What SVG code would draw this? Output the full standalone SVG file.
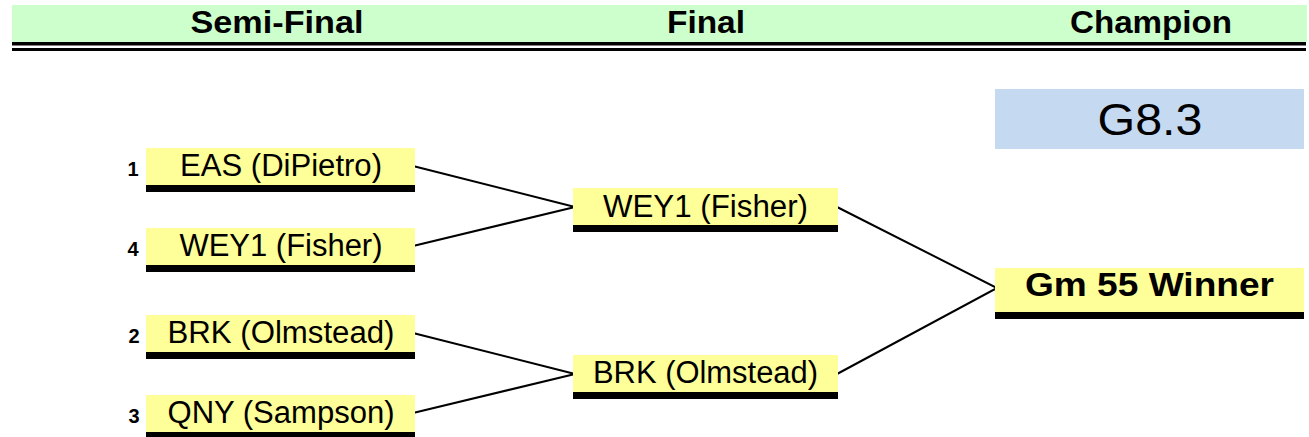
<svg xmlns="http://www.w3.org/2000/svg" width="1309" height="437" viewBox="0 0 1309 437">
<style>
.hdr{font-family:"Liberation Sans",Arial,sans-serif;font-weight:bold;font-size:31px;fill:#000;text-anchor:middle}
.box{fill:#FFFF99}
.bar{fill:#000}
.lbl{font-family:"Liberation Sans",Arial,sans-serif;font-size:31px;fill:#000;text-anchor:middle}
.seed{font-family:"Liberation Sans",Arial,sans-serif;font-weight:bold;font-size:20px;fill:#000;text-anchor:middle}
.conn{stroke:#000;stroke-width:2;fill:none}
</style>
<rect width="1309" height="437" fill="#fff"/>
<g id="header">
<rect x="12" y="5" width="1295" height="37" fill="#CCFFCC"/>
<rect x="12" y="42" width="1294" height="3.5" fill="#000"/>
<rect x="12" y="48" width="1294" height="3" fill="#000"/>
<text class="hdr" x="277" y="33" textLength="173" lengthAdjust="spacingAndGlyphs">Semi-Final</text>
<text class="hdr" x="706" y="33" textLength="78" lengthAdjust="spacingAndGlyphs">Final</text>
<text class="hdr" x="1151" y="33" textLength="162" lengthAdjust="spacingAndGlyphs">Champion</text>
</g>
<g id="connectors">
<polyline class="conn" points="413,166 575,207 413,246"/>
<polyline class="conn" points="413,333 575,374 413,413"/>
<polyline class="conn" points="837,207 997,288 837,374"/>
</g>
<g id="game-label">
<rect x="995" y="89" width="309" height="60" fill="#C5D9F1"/>
<text class="lbl" x="1150" y="135" style="font-size:45px" textLength="105" lengthAdjust="spacingAndGlyphs">G8.3</text>
</g>
<g id="semi1">
<text class="seed" x="133" y="176">1</text>
<rect class="box" x="146" y="148" width="269" height="37"/>
<rect class="bar" x="146" y="185" width="269" height="7"/>
<text class="lbl" x="281" y="176" textLength="202" lengthAdjust="spacingAndGlyphs">EAS (DiPietro)</text>
</g>
<g id="semi4">
<text class="seed" x="133" y="256">4</text>
<rect class="box" x="146" y="228" width="269" height="37"/>
<rect class="bar" x="146" y="265" width="269" height="7"/>
<text class="lbl" x="281" y="256" textLength="203" lengthAdjust="spacingAndGlyphs">WEY1 (Fisher)</text>
</g>
<g id="semi2">
<text class="seed" x="134" y="343">2</text>
<rect class="box" x="146" y="315" width="269" height="37"/>
<rect class="bar" x="146" y="352" width="269" height="7"/>
<text class="lbl" x="281" y="343" textLength="227" lengthAdjust="spacingAndGlyphs">BRK (Olmstead)</text>
</g>
<g id="semi3">
<text class="seed" x="134" y="423">3</text>
<rect class="box" x="146" y="395" width="269" height="37"/>
<rect class="bar" x="146" y="432" width="269" height="7"/>
<text class="lbl" x="281" y="423" textLength="227" lengthAdjust="spacingAndGlyphs">QNY (Sampson)</text>
</g>
<g id="final1">
<rect class="box" x="573" y="188" width="265" height="37"/>
<rect class="bar" x="573" y="225" width="265" height="7"/>
<text class="lbl" x="705.5" y="217" textLength="205" lengthAdjust="spacingAndGlyphs">WEY1 (Fisher)</text>
</g>
<g id="final2">
<rect class="box" x="573" y="355" width="265" height="37"/>
<rect class="bar" x="573" y="392" width="265" height="7"/>
<text class="lbl" x="705.5" y="383" textLength="225" lengthAdjust="spacingAndGlyphs">BRK (Olmstead)</text>
</g>
<g id="champion">
<rect class="box" x="995" y="268" width="309" height="44"/>
<rect class="bar" x="995" y="312" width="309" height="7"/>
<text class="hdr" x="1149.5" y="296" style="font-size:33px" textLength="249" lengthAdjust="spacingAndGlyphs">Gm 55 Winner</text>
</g>
</svg>
